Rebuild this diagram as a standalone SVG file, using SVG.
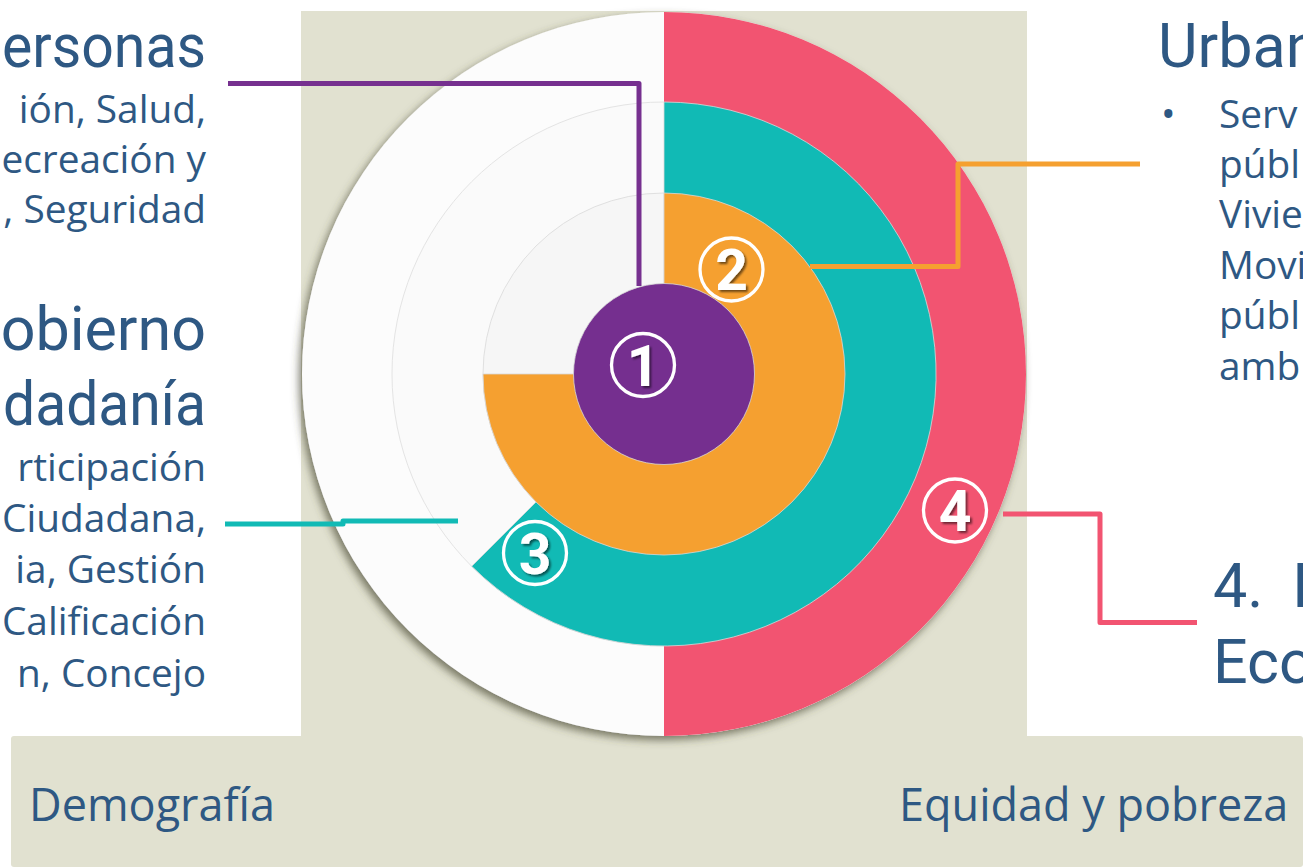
<svg xmlns="http://www.w3.org/2000/svg" width="1303" height="867" viewBox="0 0 1303 867">
<style>
.t{font-family:Roboto,"Open Sans","Liberation Sans",sans-serif;fill:#2E5883}
.title{font-size:61px}
.body{font-family:"Open Sans","Liberation Sans",sans-serif;font-size:38.8px}
.bottom{font-family:"Open Sans","Liberation Sans",sans-serif;font-size:45px}
.conn{fill:none;stroke-width:5;stroke-linejoin:round}
.badge circle{fill:none;stroke:#FFFFFF;stroke-width:3.3}
.badge text{font-family:Roboto,"Liberation Sans",sans-serif;font-weight:bold;font-size:57px;fill:#FFFFFF;text-anchor:middle;filter:url(#ts)}
</style>
<defs>
<filter id="cs" x="-10%" y="-10%" width="120%" height="120%">
<feDropShadow dx="-3" dy="4" stdDeviation="4" flood-color="#4A4A35" flood-opacity="0.7"/>
</filter>
<filter id="ts" x="-30%" y="-30%" width="160%" height="160%">
<feDropShadow dx="2" dy="2" stdDeviation="1.2" flood-color="#000000" flood-opacity="0.55"/>
</filter>
</defs>
<rect width="1303" height="867" fill="#FFFFFF"/>
<rect id="panel" x="301" y="11" width="726" height="725" fill="#E1E1D0"/>
<rect id="bottom-bar" x="11" y="736" width="1292" height="131" rx="3" fill="#E1E1D0"/>

<g id="wheel">
<g filter="url(#cs)">
<circle cx="664" cy="374" r="362" fill="#FCFCFC"/>
</g>
<circle cx="664" cy="374" r="272" fill="#FAFAFA" stroke="#E4E4E4" stroke-width="1"/>
<circle cx="664" cy="374" r="181" fill="#F6F6F6" stroke="#E0E0E0" stroke-width="1"/>
<path d="M664,12 A362,362 0 0 1 664,736 Z" fill="#F25471"/>
<path d="M664,374 L664,102 A272,272 0 1 1 471.7,566.3 Z" fill="#11BAB5" stroke="#D8D8D8" stroke-width="0.8"/>
<path d="M664,374 L664,193 A181,181 0 1 1 483,374 Z" fill="#F5A030" stroke="#D8D8D8" stroke-width="0.8"/>
<circle cx="664" cy="374" r="90.5" fill="#752F8F" stroke="#D8D8D8" stroke-width="0.8"/>
</g>

<g id="connectors">
<path class="conn" stroke="#76308F" d="M228,83.5 H639 V286"/>
<path class="conn" stroke="#F5A030" d="M1140,164 H958 V266.5 H810"/>
<path class="conn" stroke="#11BAB5" d="M225,524 H343 V521 H458"/>
<path class="conn" stroke="#F25471" d="M1003,514 H1100 V622.5 H1197"/>
</g>

<g id="badge-1" class="badge"><circle cx="643" cy="365" r="31.5"/><text x="643" y="386">1</text></g>
<g id="badge-2" class="badge"><circle cx="731.5" cy="269.5" r="31.5"/><text x="731.5" y="290">2</text></g>
<g id="badge-3" class="badge"><circle cx="535" cy="553" r="31.5"/><text x="535" y="574">3</text></g>
<g id="badge-4" class="badge"><circle cx="955" cy="510.5" r="31.5"/><text x="955" y="531">4</text></g>

<g id="node-personas" class="t" text-anchor="end">
<text class="title" x="206" y="67" textLength="204" lengthAdjust="spacingAndGlyphs">ersonas</text>
<text class="body" x="206" y="123">ión, Salud,</text>
<text class="body" x="206" y="173">ecreación y</text>
<text class="body" x="206" y="223">, Seguridad</text>
</g>

<g id="node-gobierno" class="t" text-anchor="end">
<text class="title" x="206" y="350">obierno</text>
<text class="title" x="206" y="425" textLength="203" lengthAdjust="spacingAndGlyphs">dadanía</text>
<text class="body" x="206" y="481">rticipación</text>
<text class="body" x="206" y="532">Ciudadana,</text>
<text class="body" x="206" y="583">ia, Gestión</text>
<text class="body" x="206" y="635">Calificación</text>
<text class="body" x="206" y="687">n, Concejo</text>
</g>

<g id="node-urbano" class="t">
<text class="title" x="1158" y="67">Urban</text>
<text class="body" x="1161" y="128">•</text>
<text class="body" x="1219" y="128">Serv</text>
<text class="body" x="1219" y="178">públ</text>
<text class="body" x="1219" y="228">Vivie</text>
<text class="body" x="1219" y="279">Movi</text>
<text class="body" x="1219" y="329">públ</text>
<text class="body" x="1219" y="380">amb</text>
</g>

<g id="node-economico" class="t">
<text class="title" x="1213" y="607">4.<tspan x="1292">I</tspan></text>
<text class="title" x="1213" y="683">Eco</text>
</g>

<g id="node-bottom" class="t">
<text class="bottom" x="29" y="821">Demografía</text>
<text class="bottom" x="899" y="821">Equidad y pobreza</text>
</g>
</svg>
